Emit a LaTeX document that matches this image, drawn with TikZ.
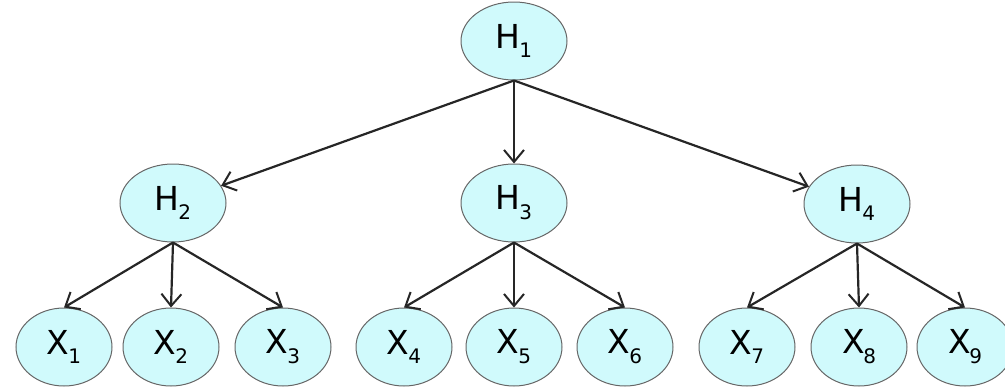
\documentclass[tikz,border=0pt]{standalone}
\usepackage{fontspec}
\setmainfont{DejaVu Sans}
\usetikzlibrary{arrows.meta, shapes.geometric}

\definecolor{nodecyan}{RGB}{208,250,252}
\newcommand\lowidx[1]{\kern-0.04em\raisebox{-0.3em}{\fontsize{20}{20}\selectfont #1}}

\begin{document}
\begin{tikzpicture}[
    x=1pt, y=-1pt,
    >={Straight Barb[length=12pt,width=20pt,line width=2pt]},
    hid/.style={
        ellipse,
        draw=black!60,
        line width=1pt,
        fill=nodecyan,
        minimum width=106pt,
        minimum height=78pt,
        inner sep=0pt,
        font=\fontsize{33}{33}\selectfont
    },
    obs/.style={
        hid,
        minimum width=96pt
    },
    link/.style={
        ->,
        line width=2.2pt,
        black!85
    }
]
    \useasboundingbox (0,0) rectangle (1005,389);

    % === Hidden nodes ===
    \node[hid] (h1) at (514,41) {H\lowidx{1}};
    \node[hid] (h2) at (173,203) {H\lowidx{2}};
    \node[hid] (h3) at (514,203) {H\lowidx{3}};
    \node[hid] (h4) at (857,204) {H\lowidx{4}};

    % === Observed nodes ===
    \node[obs] (x1) at (64,347) {X\lowidx{1}};
    \node[obs] (x2) at (171,347) {X\lowidx{2}};
    \node[obs] (x3) at (283,347) {X\lowidx{3}};
    \node[obs] (x4) at (404,347) {X\lowidx{4}};
    \node[obs] (x5) at (514,347) {X\lowidx{5}};
    \node[obs] (x6) at (625,347) {X\lowidx{6}};
    \node[obs] (x7) at (747,347) {X\lowidx{7}};
    \node[obs] (x8) at (859,347) {X\lowidx{8}};
    \node[obs] (x9) at (965,347) {X\lowidx{9}};

    % === Links ===
    \path[link]
        (h1.south) edge (h2)
        (h1.south) edge (h3.north)
        (h1.south) edge (h4)
        (h2.south) edge (x1.north)
        (h2.south) edge (x2.north)
        (h2.south) edge (x3.north)
        (h3.south) edge (x4.north)
        (h3.south) edge (x5.north)
        (h3.south) edge (x6.north)
        (h4.south) edge (x7.north)
        (h4.south) edge (x8.north)
        (h4.south) edge (x9.north);

\end{tikzpicture}
\end{document}
